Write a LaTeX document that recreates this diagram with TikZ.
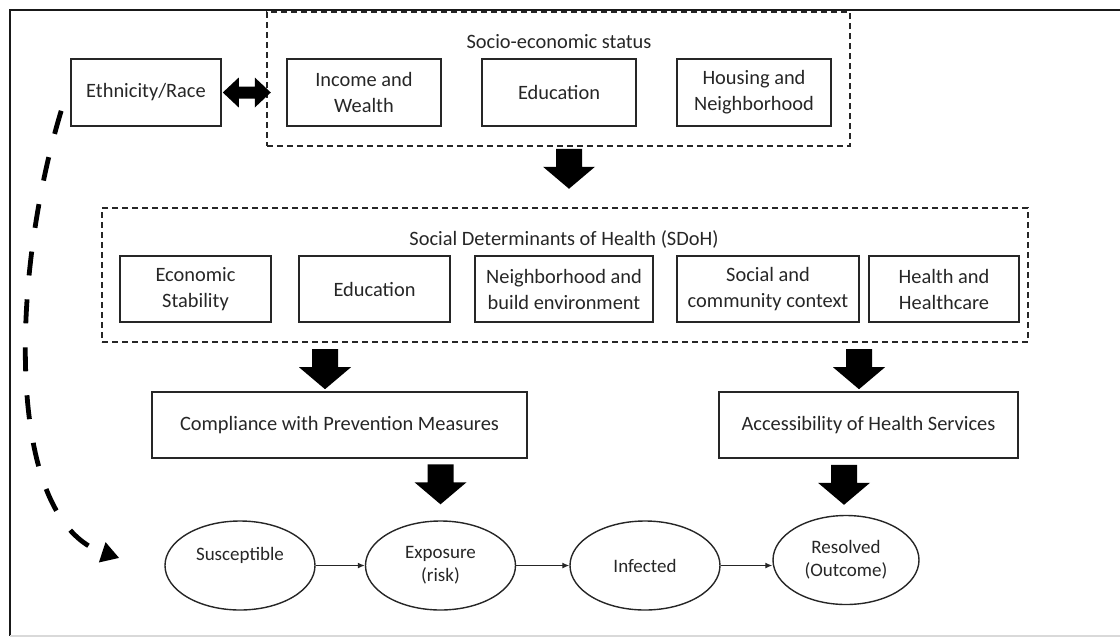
\documentclass[tikz,border=0pt]{standalone}
\usepackage{fontspec}
\setmainfont{Carlito}
\usetikzlibrary{arrows.meta,calc,shapes.geometric}
\begin{document}
\begin{tikzpicture}[x=0.5pt,y=-0.5pt,
  box/.style={draw=black!85, line width=0.8pt, align=center, inner sep=0pt,
    text=black!85, font=\fontsize{10.2}{13}\selectfont},
  grp/.style={draw=black!85, line width=0.75pt, dash pattern=on 3pt off 2pt,
    inner sep=0pt},
  grptitle/.style={text=black!85, font=\fontsize{10.2}{13}\selectfont, inner sep=0pt},
  oval/.style={ellipse, draw=black!85, line width=0.7pt, minimum width=75pt,
    minimum height=44.5pt, inner sep=0pt, align=center, text=black!85,
    font=\fontsize{9.5}{11.5}\selectfont},
  flow/.style={line width=0.6pt, draw=black!85, -{Latex[length=3.5pt,width=3pt]}},
  dashcurve/.style={line width=2.4pt, draw=black, dash pattern=on 12pt off 12pt,
    -{Triangle[length=9pt,width=10pt]}},
  blockdn/.pic={\fill[black] (-13,0) -- (13,0) -- (13,18) -- (26,18) -- (0,40)
    -- (-26,18) -- (-13,18) -- cycle;},
  blocklr/.pic={\fill[black] (-24,0) -- (-8,-15) -- (-8,-6) -- (8,-6) -- (8,-15)
    -- (24,0) -- (8,15) -- (8,6) -- (-8,6) -- (-8,15) -- cycle;}
]
\useasboundingbox (0,0) rectangle (1120,638);
% frame
\draw[line width=1pt, black!90] (1120,10) -- (10,10) -- (10,636);
\draw[line width=1pt, black!15] (10,636) -- (1120,636);

% Ethnicity
\node[box, minimum width=75pt, minimum height=33.5pt] (eth) at (146,92.5) {Ethnicity/Race};

% Socio-economic status group
\node[grp, minimum width=291.5pt, minimum height=67pt] (ses) at (558.5,79) {};
\node[grptitle] (sestitle) at (559,42) {Socio-economic status};
\node[box, minimum width=77pt, minimum height=33.5pt] (inc) at (364,92.5) {Income and\\Wealth};
\node[box, minimum width=77pt, minimum height=33.5pt] (edu1) at (559,92.5) {Education};
\node[box, minimum width=77pt, minimum height=33.5pt] (hou) at (754,92.5) {Housing and\\Neighborhood};

% SDoH group
\node[grp, minimum width=463pt, minimum height=67pt] (sdoh) at (565,275) {};
\node[grptitle] (sdohtitle) at (564,239) {Social Determinants of Health (SDoH)};
\node[box, minimum width=75.5pt, minimum height=33pt] (eco) at (195.5,289) {Economic\\Stability};
\node[box, minimum width=75.5pt, minimum height=33pt] (edu2) at (374.5,289) {Education};
\node[box, minimum width=89pt, minimum height=33pt] (nei) at (564,289) {Neighborhood and\\build environment};
\node[box, minimum width=91pt, minimum height=33pt] (soc) at (768,289) {Social and\\community context};
\node[box, minimum width=75pt, minimum height=33pt] (hea) at (944,289) {Health and\\Healthcare};

% middle boxes
\node[box, minimum width=187.5pt, minimum height=33pt] (comp) at (339.5,425) {Compliance with Prevention Measures};
\node[box, minimum width=149.5pt, minimum height=33pt] (acc) at (868.5,425) {Accessibility of Health Services};

% ellipses
\node[oval] (sus) at (240,565.5) {Susceptible\\\mbox{}};
\node[oval] (expo) at (440.5,565.5) {Exposure\\(risk)};
\node[oval] (inf) at (645,565.5) {Infected};
\node[oval, minimum width=73pt] (res) at (846,560) {Resolved\\(Outcome)};

% thin flow arrows
\draw[flow] (sus.east) -- (expo.west);
\draw[flow] (expo.east) -- (inf.west);
\draw[flow] (inf.east) -- (inf.east -| res.west);

% block arrows
\pic at ($(eth.east)+(25,0)$) {blocklr};
\pic at ($(ses.south)+(10.5,2)$) {blockdn};
\pic at ($(comp.north)+(-14.5,-42)$) {blockdn};
\pic at ($(acc.north)+(-9.5,-42)$) {blockdn};
\pic at ($(expo.north)+(0,-56)$) {blockdn};
\pic at ($(res.north)+(-2,-50)$) {blockdn};

% dashed curved arrow
\coordinate (dstart) at ($(eth.south west)+(-9,-16)$);
\coordinate (dend) at ($(sus.west)+(-45,-7.5)$);
\draw[dashcurve] (dstart) .. controls (10,280) and (5,520) .. (dend);
\end{tikzpicture}
\end{document}
